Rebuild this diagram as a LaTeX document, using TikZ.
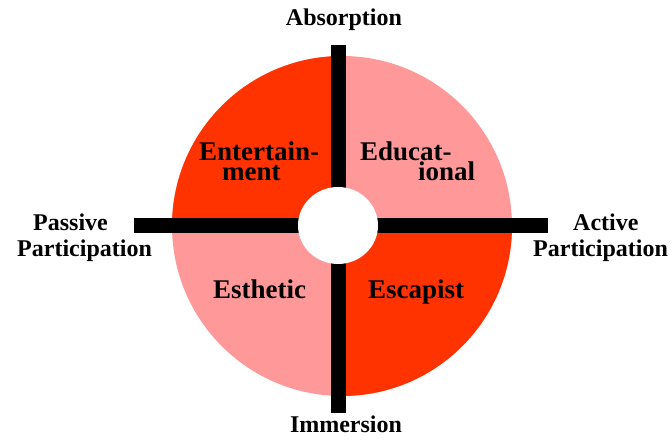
\documentclass[tikz,border=0pt]{standalone}
\usepackage{fontspec}
\setmainfont{Liberation Serif}
\usetikzlibrary{positioning}
\definecolor{realmdark}{HTML}{FF3300}
\definecolor{realmpink}{HTML}{FF9999}
\lineskiplimit=-100pt

\begin{document}
\begin{tikzpicture}[x=1pt, y=-1pt,
  axislabel/.style={font=\fontsize{24}{26}\selectfont\bfseries, inner sep=0pt, align=left},
  realmlabel/.style={font=\fontsize{27}{20}\selectfont\bfseries, inner sep=0pt, align=left},
  axisbar/.style={line width=15pt, black}]
\useasboundingbox (0,0) rectangle (672,443);
% the four realms
\coordinate (c) at (342,226);
\fill[realmpink] (c) circle[radius=170];
\fill[realmdark] (c) -- ++(180:170) arc[start angle=180, end angle=270, radius=170] -- cycle;
\fill[realmdark] (c) -- ++(0:170) arc[start angle=0, end angle=90, radius=170] -- cycle;
% axes
\coordinate (west) at (134,225.5);
\coordinate (east) at (548,225.5);
\coordinate (north) at (338.5,45);
\coordinate (south) at (338.5,413);
\draw[axisbar] (west) -- (east);
\draw[axisbar] (north) -- (south);
\fill[white] (338,225.5) circle[x radius=40, y radius=38.5];
% axis labels (base = last line)
\node[axislabel, anchor=base] (absorb) at (344,26) {Absorption};
\node[axislabel, anchor=base] (immerse) at (346,432) {Immersion};
\node[axislabel, anchor=base west] (passive) at (17,257) {\hspace*{16pt}Passive\\Participation};
\node[axislabel, anchor=base west] (active) at (533,257) {\hspace*{40pt}Active\\Participation};
% realm labels
\node[realmlabel, anchor=base west] (entertain) at (199,181) {Entertain-\\\hspace*{23pt}ment};
\node[realmlabel, anchor=base west] (educate) at (360,181) {Educat-\\\hspace*{58pt}ional};
\node[realmlabel, anchor=base west] (esthetic) at (213,299) {Esthetic};
\node[realmlabel, anchor=base west] (escape) at (368,299) {Escapist};
\end{tikzpicture}
\end{document}
